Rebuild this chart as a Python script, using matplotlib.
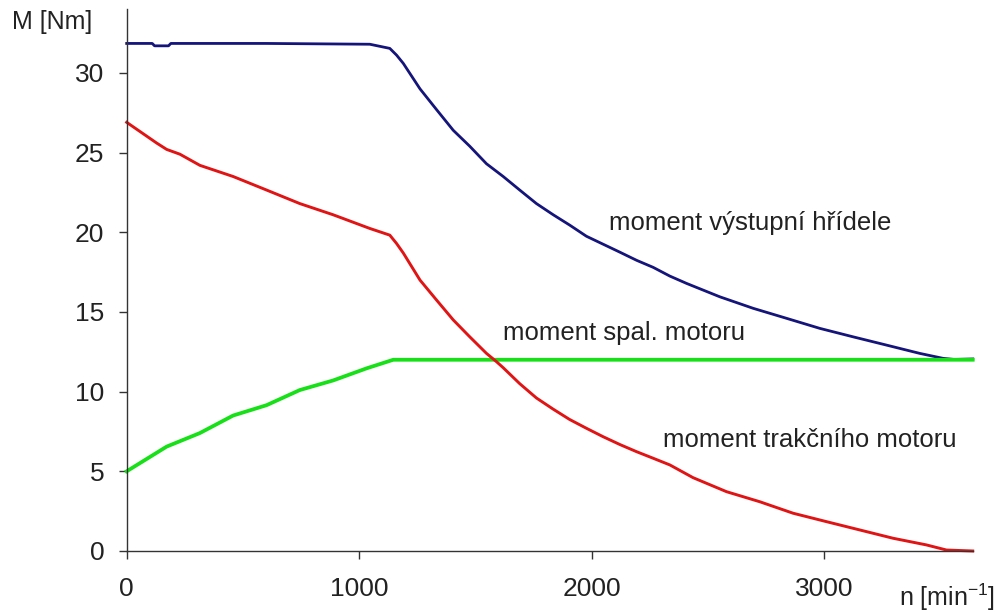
import numpy as np
import matplotlib
matplotlib.use('Agg')
import matplotlib.pyplot as plt

plt.rcParams['font.family'] = ['Liberation Sans', 'DejaVu Sans']
plt.rcParams['mathtext.default'] = 'regular'

# moment vystupni hridele (blue)
n_vys = [0, 110, 120, 180, 190, 600, 1046, 1132, 1161, 1190, 1262, 1333, 1405, 1476,
         1548, 1620, 1691, 1763, 1835, 1906, 1978, 2050, 2122, 2194, 2265, 2337,
         2409, 2552, 2695, 2839, 2982, 3125, 3269, 3412, 3512, 3560, 3640]
M_vys = [31.85, 31.85, 31.7, 31.7, 31.85, 31.85, 31.8, 31.54, 31.12, 30.6, 29.0, 27.7, 26.4, 25.4,
         24.3, 23.5, 22.65, 21.8, 21.1, 20.45, 19.75, 19.25, 18.75, 18.24, 17.8, 17.25,
         16.79, 15.95, 15.23, 14.6, 13.97, 13.44, 12.92, 12.4, 12.09, 12.02, 12.05]

# moment spalovaciho motoru (green)
n_spal = [0, 172, 315, 458, 602, 745, 888, 1032, 1147, 2000, 3000, 3640]
M_spal = [5.0, 6.55, 7.4, 8.5, 9.15, 10.1, 10.7, 11.46, 12.0, 12.0, 12.0, 12.0]

# moment trakcniho motoru (red)
n_trak = [0, 129, 172, 229, 315, 458, 602, 745, 888, 1046, 1132, 1161, 1190, 1262,
          1333, 1405, 1476, 1548, 1591, 1620, 1691, 1763, 1835, 1906, 1978, 2050,
          2122, 2194, 2265, 2337, 2437, 2581, 2724, 2867, 3011, 3154, 3297, 3441,
          3527, 3640]
M_trak = [26.9, 25.6, 25.2, 24.9, 24.2, 23.5, 22.65, 21.8, 21.1, 20.24, 19.82, 19.3, 18.7, 17.0,
          15.75, 14.5, 13.44, 12.4, 11.88, 11.5, 10.5, 9.6, 8.9, 8.25, 7.7, 7.17,
          6.68, 6.23, 5.82, 5.4, 4.6, 3.72, 3.09, 2.37, 1.84, 1.32, 0.8, 0.38,
          0.06, 0.0]

fig = plt.figure(figsize=(9.99, 6.12), dpi=100)
ax = fig.add_axes([0.1268, 0.0997, 0.9737 - 0.1268, 0.985 - 0.0997])

ax.plot(n_vys, M_vys, color='#14147a', linewidth=2.0, clip_on=False)
ax.plot(n_spal, M_spal, color='#18e018', linewidth=2.7, clip_on=False)
ax.plot(n_trak, M_trak, color='#e01414', linewidth=2.1, clip_on=False)

ax.set_xlim(0, 3640)
ax.set_ylim(0, 34)
ax.set_xticks([0, 1000, 2000, 3000])
ax.set_yticks([0, 5, 10, 15, 20, 25, 30])

for s in ['top', 'right']:
    ax.spines[s].set_visible(False)
for s in ['left', 'bottom']:
    ax.spines[s].set_color('#333333')
    ax.spines[s].set_linewidth(1.0)

ax.tick_params(axis='both', direction='out', length=6, width=1, colors='#333333',
               labelsize=19, labelcolor='#222222')
ax.tick_params(axis='y', pad=10)
ax.tick_params(axis='x', pad=13)

ax.set_xlabel('n [min$^{-1}$]', fontsize=18, color='#222222', ha='center', va='center')
ax.xaxis.set_label_coords(0.97, -0.085)
ax.set_ylabel('M [Nm]', fontsize=18, color='#222222', rotation=0, ha='center', va='center')
ax.yaxis.set_label_coords(-0.088, 0.976)

ax.text(2074, 20.6, 'moment výstupní hřídele', fontsize=18.5, color='#222222', va='center')
ax.text(1619, 13.7, 'moment spal. motoru', fontsize=18.5, color='#222222', va='center')
ax.text(2307, 6.96, 'moment trakčního motoru', fontsize=18.5, color='#222222', va='center')

fig.savefig('out.png', dpi=100)
